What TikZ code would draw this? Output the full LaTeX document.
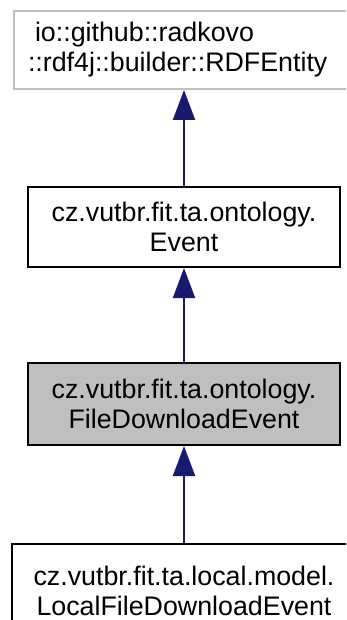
\documentclass[tikz,border=0pt]{standalone}
\usepackage{fontspec}
\setmainfont{Liberation Sans}
\usetikzlibrary{arrows.meta}
\definecolor{edgeblue}{HTML}{191970}
\definecolor{boxgray}{HTML}{BFBFBF}
\tikzset{
  lbl/.style={font=\fontsize{26.8}{30}\selectfont},
  cls/.style={lbl, draw=black, line width=2pt, rectangle, inner sep=0pt, align=center},
  inherit/.style={draw=edgeblue, line width=2pt,
    -{Triangle[length=30pt,width=22pt,fill=edgeblue]}}
}
\begin{document}
\begin{tikzpicture}[x=1pt,y=1pt]
\useasboundingbox (0,0) rectangle (346,-620);
\clip (0,0) rectangle (346,-620);
\node[cls, draw=boxgray, anchor=north west, align=left, text width=330pt,
  inner xsep=14pt, minimum height=78pt] (rdf) at (13,-10)
  {\hspace*{7pt}io::github::radkovo\\::rdf4j::builder::RDFEntity};
\node[cls, minimum width=312pt, minimum height=80pt] (event) at (184,-227)
  {cz.vutbr.fit.ta.ontology.\\Event};
\node[cls, fill=boxgray, minimum width=312pt, minimum height=82pt] (fde) at (184,-404)
  {cz.vutbr.fit.ta.ontology.\\FileDownloadEvent};
\node[cls, anchor=north, minimum width=344pt, minimum height=98pt] (lfde) at (184,-543)
  {};
\node[lbl, align=center] (lfdetext) at (184,-591)
  {cz.vutbr.fit.ta.local.model.\\LocalFileDownloadEvent};
\draw[inherit] (event.north) -- (event.north |- rdf.south);
\draw[inherit] (fde.north) -- (event.south);
\draw[inherit] (lfde.north) -- (fde.south);
\end{tikzpicture}
\end{document}
